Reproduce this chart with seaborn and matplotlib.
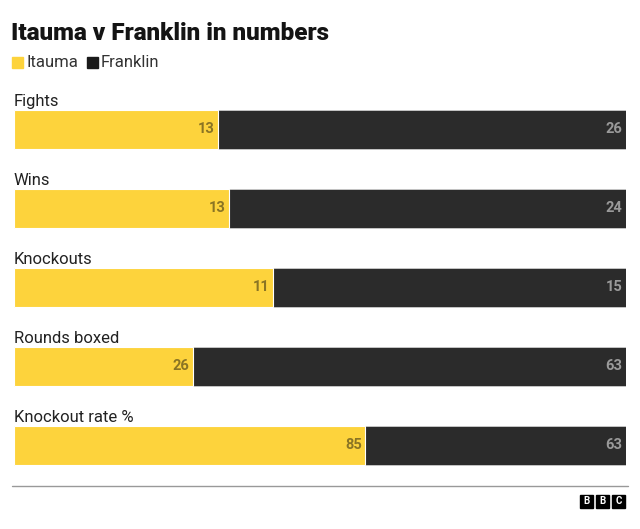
import matplotlib
matplotlib.use('Agg')
import matplotlib.pyplot as plt
import seaborn as sns
import pandas as pd
from matplotlib.patches import Rectangle

categories = ['Fights', 'Wins', 'Knockouts', 'Rounds boxed', 'Knockout rate %']
itauma = [13, 13, 11, 26, 85]
franklin = [26, 24, 15, 63, 63]

yellow = '#fdd33c'
dark = '#2b2b2b'

df = pd.DataFrame({'category': categories, 'itauma': itauma, 'franklin': franklin})
df['total'] = 1.0
df['share'] = df['itauma'] / (df['itauma'] + df['franklin'])

sns.set_style('white')
plt.rcParams['font.family'] = ['Roboto', 'DejaVu Sans']

fig = plt.figure(figsize=(6.4, 5.29), dpi=100)
W, H = 640, 529
ax = fig.add_axes([14 / W, 1 - 466 / H, 612 / W, 376 / H])

sns.barplot(data=df, x='total', y='category', orient='h', color=dark,
            width=0.494, ax=ax, edgecolor='#cccccc', linewidth=0.6, saturation=1)
sns.barplot(data=df, x='share', y='category', orient='h', color=yellow,
            width=0.494, ax=ax, edgecolor='white', linewidth=0.8, saturation=1)

ax.set_xlim(0, 1)
ax.set_ylim(4.26, -0.5)
ax.axis('off')

for i, row in df.iterrows():
    ax.text(0.0, i - 0.36, row['category'], ha='left', va='center',
            fontsize=12, color='#222222')
    ax.text(row['share'] - 0.006, i, str(row['itauma']), ha='right', va='center',
            fontsize=10.5, fontweight='bold', color='#8a7424')
    ax.text(0.994, i, str(row['franklin']), ha='right', va='center',
            fontsize=10.5, fontweight='bold', color='#9a9a9a')

# title and legend
fig.text(11 / W, 1 - 33 / H, 'Itauma v Franklin in numbers', ha='left', va='center',
         fontsize=17.5, fontweight='heavy', color='#141414')
fig.patches.append(Rectangle((12 / W, 1 - 68 / H), 11 / W, 11 / H,
                             transform=fig.transFigure, color=yellow))
fig.text(26 / W, 1 - 62.5 / H, 'Itauma', ha='left', va='center', fontsize=12, color='#333333')
fig.patches.append(Rectangle((87 / W, 1 - 68 / H), 11 / W, 11 / H,
                             transform=fig.transFigure, color='#1a1a1a'))
fig.text(101 / W, 1 - 62.5 / H, 'Franklin', ha='left', va='center', fontsize=12, color='#333333')

# footer line and logo
fig.add_artist(plt.Line2D([12 / W, 628 / W], [1 - 486 / H, 1 - 486 / H],
                          transform=fig.transFigure, color='#999999', linewidth=1))
for k, letter in enumerate('BBC'):
    x0 = 580 + k * 16
    fig.patches.append(Rectangle((x0 / W, 1 - 508 / H), 13 / W, 13 / H,
                                 transform=fig.transFigure, color='black'))
    fig.text((x0 + 6.5) / W, 1 - 501.5 / H, letter, ha='center', va='center',
             fontsize=7, fontweight='bold', color='white')

fig.savefig('out.png', dpi=100, facecolor='white')
